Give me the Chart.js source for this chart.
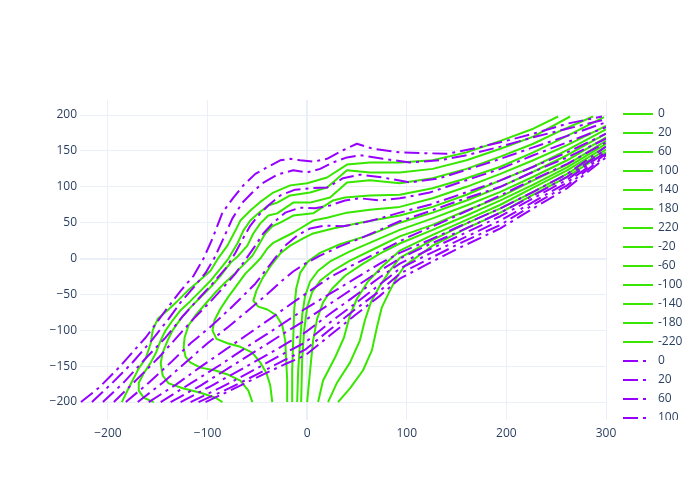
<!DOCTYPE html>
<html>
<head>
<meta charset="utf-8">
<script src="https://cdn.jsdelivr.net/npm/chart.js@4.4.1/dist/chart.umd.min.js"></script>
<style>
  html, body { margin: 0; padding: 0; background: #fff; }
  #wrap { width: 700px; height: 500px; }
</style>
</head>
<body>
<div id="wrap"><canvas id="chart" width="700" height="500"></canvas></div>
<script>
// levels (legend names), same set for both families
const greenLevels = ['0', '20', '60', '100', '140', '180', '220', '-20', '-60', '-100', '-140', '-180', '-220'];
const purpleLevels = ['0', '20', '60', '100', '140', '180', '220', '-20', '-60', '-100', '-140', '-180', '-220'];
const xTicks = [-200, -100, 0, 100, 200, 300];
const yTicks = [-200, -150, -100, -50, 0, 50, 100, 150, 200];

// green solid lines, [x, y]
const green220 = [[-186,-200],[-179,-180],[-169,-153],[-162,-139],[-157,-118],[-155,-100],[-150,-84],[-140,-72],[-130,-59],[-120,-45],[-110,-33],[-97,-17],[-89,1],[-80,18],[-72,39],[-67,53],[-57,67],[-47,79],[-34,92],[-17,102],[0,105],[20,113],[40,131],[63,134],[93,134],[126,137],[160,148],[194,164],[227,181],[252,198]];
const green180 = [[-154,-200],[-164,-194],[-169,-184],[-169,-173],[-164,-160],[-157,-145],[-152,-132],[-147,-114],[-142,-100],[-135,-86],[-127,-72],[-117,-59],[-107,-45],[-97,-31],[-87,-14],[-79,0],[-70,21],[-64,39],[-57,53],[-49,63],[-39,74],[-30,78],[-17,88],[3,92],[20,99],[40,123],[63,120],[93,120],[126,125],[160,137],[194,153],[227,170],[264,198]];
const green140 = [[-85,-200],[-92,-194],[-107,-187],[-124,-181],[-139,-174],[-145,-163],[-147,-146],[-145,-131],[-140,-114],[-135,-100],[-127,-84],[-117,-68],[-107,-54],[-97,-40],[-87,-24],[-77,-6],[-69,4],[-60,18],[-54,35],[-47,49],[-39,60],[-30,63],[-14,78],[3,78],[23,85],[40,106],[63,109],[93,105],[126,112],[160,125],[194,142],[227,160],[254,178],[287,198]];
const green100 = [[-55,-200],[-59,-184],[-67,-170],[-79,-162],[-92,-156],[-107,-152],[-117,-145],[-122,-137],[-124,-124],[-123,-110],[-119,-93],[-112,-79],[-102,-63],[-92,-47],[-82,-33],[-72,-20],[-62,-6],[-55,4],[-49,18],[-42,35],[-35,45],[-27,50],[-14,60],[6,63],[26,81],[38,85],[63,88],[93,89],[126,98],[160,112],[194,128],[227,148],[261,171],[298,197]];
const green60 = [[-35,-200],[-37,-177],[-41,-159],[-47,-145],[-55,-131],[-67,-123],[-80,-118],[-91,-112],[-95,-100],[-93,-86],[-87,-70],[-79,-53],[-71,-38],[-62,-21],[-54,-10],[-47,0],[-40,14],[-34,22],[-24,29],[-14,36],[6,53],[20,57],[40,64],[63,68],[93,72],[126,84],[160,100],[194,118],[227,137],[261,158],[300,185]];
const green20 = [[-20,-200],[-20,-170],[-21,-142],[-22,-114],[-25,-93],[-31,-79],[-40,-71],[-49,-67],[-54,-59],[-51,-45],[-45,-28],[-37,-11],[-27,7],[-17,18],[-4,28],[6,35],[26,42],[53,50],[93,60],[126,72],[160,89],[194,109],[227,128],[261,151],[300,180]];
const green0 = [[-15,-200],[-15,-156],[-14,-114],[-13,-72],[-11,-42],[-7,-20],[1,-4],[13,8],[33,20],[63,33],[93,50],[126,64],[160,81],[194,100],[227,121],[261,144],[300,174]];
const greenM20 = [[-10,-200],[-9,-156],[-7,-114],[-5,-79],[-2,-52],[3,-32],[11,-17],[23,-4],[43,10],[68,25],[93,40],[126,56],[160,74],[194,93],[227,114],[261,137],[300,169]];
const greenM60 = [[-6,-200],[-5,-142],[-3,-100],[0,-68],[5,-47],[13,-31],[26,-17],[43,-3],[68,14],[93,31],[126,47],[160,67],[194,86],[227,109],[261,131],[300,164]];
const greenM100 = [[0,-200],[3,-156],[6,-114],[10,-84],[16,-61],[25,-42],[38,-24],[55,-8],[73,7],[93,21],[126,40],[160,60],[194,81],[227,103],[261,127],[300,160]];
const greenM140 = [[11,-200],[16,-170],[28,-138],[37,-110],[43,-79],[50,-56],[61,-32],[76,-10],[93,11],[126,33],[160,54],[194,75],[227,99],[261,123],[300,156]];
const greenM180 = [[21,-200],[30,-173],[43,-145],[53,-114],[58,-86],[64,-61],[73,-38],[83,-17],[93,1],[126,26],[160,49],[194,70],[227,93],[261,118],[300,152]];
const greenM220 = [[31,-200],[43,-181],[56,-156],[65,-128],[70,-96],[75,-68],[83,-45],[90,-26],[98,-10],[126,18],[160,42],[194,64],[227,89],[261,114],[300,148]];

// purple dash-dot lines
const purple220 = [[-227,-200],[-209,-180],[-189,-152],[-162,-110],[-142,-72],[-127,-45],[-114,-24],[-104,0],[-95,28],[-85,64],[-74,85],[-64,102],[-52,118],[-39,128],[-27,137],[-17,139],[-7,137],[6,135],[20,139],[36,151],[50,160],[66,153],[93,148],[140,146],[166,153],[194,162],[227,174],[261,188],[296,198]];
const purple180 = [[-216,-200],[-196,-174],[-176,-146],[-156,-114],[-139,-84],[-127,-61],[-115,-42],[-102,-20],[-93,1],[-85,25],[-75,56],[-65,78],[-55,92],[-45,105],[-30,117],[-14,123],[0,120],[13,125],[26,134],[40,141],[53,144],[76,139],[103,134],[133,137],[160,144],[194,156],[227,169],[261,181],[300,194]];
const purple140 = [[-205,-200],[-185,-174],[-162,-139],[-142,-110],[-124,-79],[-109,-56],[-95,-35],[-82,-14],[-72,8],[-64,29],[-57,46],[-49,60],[-39,74],[-27,88],[-12,96],[3,98],[20,99],[36,112],[53,117],[76,113],[103,106],[133,112],[163,125],[194,139],[227,155],[261,171],[300,190]];
const purple100 = [[-194,-200],[-172,-170],[-149,-138],[-129,-107],[-112,-81],[-97,-60],[-84,-40],[-72,-21],[-61,0],[-52,18],[-44,35],[-34,50],[-22,64],[-7,71],[8,70],[23,74],[38,81],[53,84],[73,81],[93,84],[123,92],[153,106],[194,125],[227,144],[261,162],[300,183]];
const purple60 = [[-182,-200],[-159,-173],[-137,-145],[-117,-118],[-97,-95],[-79,-72],[-65,-53],[-52,-35],[-42,-17],[-32,1],[-22,18],[-10,32],[3,42],[18,46],[36,45],[53,49],[73,56],[93,64],[123,75],[153,89],[194,109],[227,128],[261,148],[300,174]];
const purple20 = [[-170,-200],[-145,-173],[-122,-145],[-100,-118],[-79,-95],[-59,-72],[-42,-52],[-27,-33],[-14,-18],[-2,-7],[13,4],[33,17],[53,28],[73,40],[93,52],[123,66],[153,81],[194,100],[227,121],[261,141],[300,167]];
const purple0 = [[-159,-200],[-132,-176],[-107,-151],[-82,-127],[-57,-103],[-35,-82],[-14,-61],[5,-43],[23,-26],[43,-11],[63,3],[83,17],[103,31],[133,49],[163,68],[194,88],[227,110],[261,132],[300,162]];
const purpleM20 = [[-147,-200],[-117,-174],[-87,-148],[-57,-120],[-29,-95],[-2,-70],[23,-49],[48,-28],[73,-7],[93,8],[123,26],[153,45],[194,70],[227,93],[261,118],[300,156]];
const purpleM60 = [[-137,-200],[-107,-177],[-77,-151],[-47,-125],[-22,-103],[-2,-86],[23,-63],[48,-40],[73,-17],[93,0],[123,20],[153,38],[194,64],[227,88],[261,114],[300,152]];
const purpleM100 = [[-127,-200],[-97,-178],[-67,-155],[-35,-130],[-2,-103],[23,-77],[48,-52],[73,-26],[93,-7],[123,13],[153,32],[194,59],[227,84],[261,110],[300,149]];
const purpleM140 = [[-117,-200],[-87,-180],[-57,-158],[-27,-135],[-2,-117],[23,-89],[48,-63],[73,-36],[93,-14],[123,7],[153,26],[194,53],[227,79],[261,106],[300,146]];
const purpleM180 = [[-109,-200],[-77,-180],[-47,-159],[-22,-141],[-2,-127],[23,-99],[48,-71],[73,-45],[93,-21],[123,0],[153,21],[194,47],[227,75],[261,102],[300,144]];
const purpleM220 = [[-102,-200],[-79,-185],[-45,-162],[-22,-147],[-2,-135],[23,-107],[48,-79],[73,-52],[93,-28],[123,-6],[153,15],[194,42],[227,70],[261,98],[300,141]];

// same order as the level names
const greenLines = [green0, green20, green60, green100, green140, green180, green220, greenM20, greenM60, greenM100, greenM140, greenM180, greenM220];
const purpleLines = [purple0, purple20, purple60, purple100, purple140, purple180, purple220, purpleM20, purpleM60, purpleM100, purpleM140, purpleM180, purpleM220];

const GREEN = '#38e600';
const PURPLE = '#9700ff';
const DASHDOT = [15, 5, 3, 5];
const TEXT = '#2a3f5f';
const GRID = '#ebf0f8';

function makeSet(label, pts, color, dash, order) {
    return {
        label: label,
        data: pts.map(p => ({ x: p[0], y: p[1] })),
        showLine: true,
        borderColor: color,
        borderWidth: 2,
        borderDash: dash,
        borderCapStyle: 'butt',
        borderJoinStyle: 'round',
        pointRadius: 0,
        pointHoverRadius: 0,
        fill: false,
        tension: 0,
        order: order
    };
}

const datasets = [];
greenLevels.forEach((lv, i) => datasets.push(makeSet(lv, greenLines[i], GREEN, [], 1)));
purpleLevels.forEach((lv, i) => datasets.push(makeSet(lv, purpleLines[i], PURPLE, DASHDOT, 0)));

// plotly-like legend on the right, cut off at the bottom
const sideLegend = {
    id: 'sideLegend',
    afterDraw(chart) {
        const ctx = chart.ctx;
        ctx.save();
        ctx.beginPath();
        ctx.rect(612, 100, 88, 320);
        ctx.clip();
        ctx.font = '12px "Open Sans", verdana, arial, sans-serif';
        ctx.textBaseline = 'middle';
        ctx.textAlign = 'left';
        chart.data.datasets.forEach((ds, i) => {
            const y = 114 + i * 19;
            ctx.strokeStyle = ds.borderColor;
            ctx.lineWidth = 2;
            ctx.lineCap = 'butt';
            ctx.setLineDash(ds.borderDash || []);
            ctx.beginPath();
            ctx.moveTo(623, y);
            ctx.lineTo(ds.borderDash && ds.borderDash.length ? 651 : 653, y);
            ctx.stroke();
            ctx.setLineDash([]);
            ctx.fillStyle = TEXT;
            ctx.fillText(ds.label, 658, y);
        });
        ctx.restore();
    }
};

const minus = v => v < 0 ? '\u2212' + Math.abs(v) : String(v);
const gridWidth = c => (c.tick && c.tick.value === 0) ? 2 : 1;

Chart.defaults.font.family = '"Open Sans", verdana, arial, sans-serif';
Chart.defaults.font.size = 12;
Chart.defaults.color = TEXT;

new Chart(document.getElementById('chart'), {
    type: 'scatter',
    data: { datasets: datasets },
    options: {
        responsive: false,
        animation: false,
        devicePixelRatio: 1,
        layout: { padding: { left: 0, right: 94, top: 100, bottom: 50 } },
        plugins: { legend: { display: false }, tooltip: { enabled: false } },
        scales: {
            x: {
                type: 'linear', min: -228, max: 300,
                afterBuildTicks: axis => { axis.ticks = xTicks.map(v => ({ value: v })); },
                afterFit: axis => { axis.height = 30; },
                grid: { color: GRID, lineWidth: gridWidth, drawTicks: false },
                border: { display: false },
                ticks: { padding: 6, color: TEXT, maxRotation: 0, autoSkip: false, callback: minus }
            },
            y: {
                type: 'linear', min: -225, max: 221,
                afterBuildTicks: axis => { axis.ticks = yTicks.map(v => ({ value: v })); },
                afterFit: axis => { axis.width = 80; },
                grid: { color: GRID, lineWidth: gridWidth, drawTicks: false },
                border: { display: false },
                ticks: { padding: 3, color: TEXT, autoSkip: false, callback: minus }
            }
        }
    },
    plugins: [sideLegend]
});
</script>
</body>
</html>
